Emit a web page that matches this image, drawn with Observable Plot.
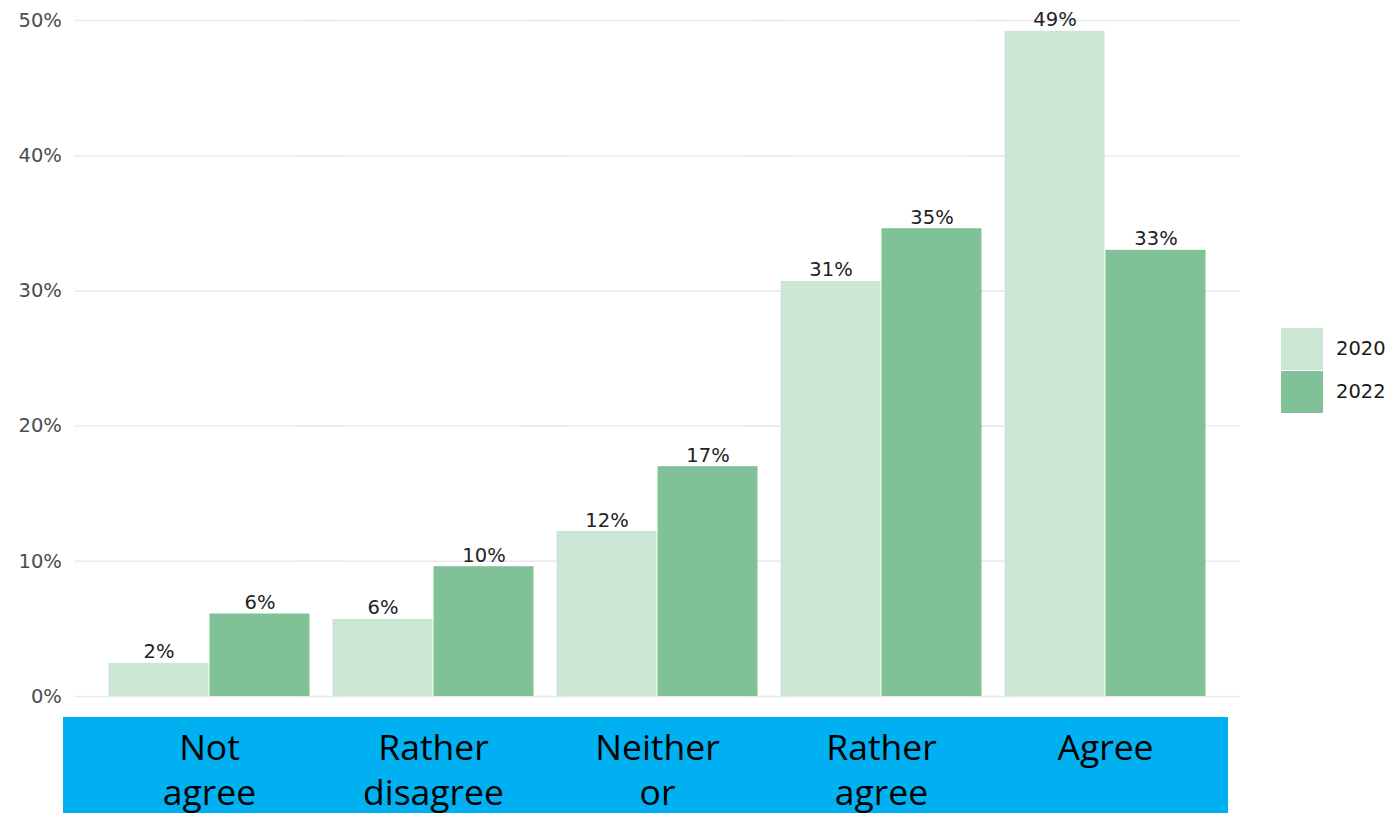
<!DOCTYPE html>
<html>
<head>
<meta charset="utf-8">
<script src="https://cdn.jsdelivr.net/npm/d3@7"></script>
<script src="https://cdn.jsdelivr.net/npm/@observablehq/plot@0.6"></script>
<style>
  html, body { margin: 0; padding: 0; background: #fff; overflow: hidden; }
  #wrap { position: relative; width: 1390px; height: 813px; }
  #band { position: absolute; left: 63px; top: 717px; width: 1165px; height: 96px; background: #00b0f0; }
  #chart { position: absolute; left: 0; top: 0; }
  #legend { position: absolute; left: 1281px; top: 327px; font-family: "DejaVu Sans", sans-serif; font-size: 19.5px; color: #1a1a1a; }
  .item { display: flex; align-items: center; height: 43px; }
  .sw { width: 42px; height: 42px; margin-right: 13px; }
</style>
</head>
<body>
<div id="wrap">
  <div id="band"></div>
  <div id="chart"></div>
  <div id="legend"></div>
</div>
<script>
const categories = ["Not\nagree", "Rather\ndisagree", "Neither\nor", "Rather\nagree", "Agree"];
const years = ["2020", "2022"];
const values2020 = [2.45, 5.7, 12.2, 30.7, 49.2];
const values2022 = [6.1, 9.6, 17.0, 34.6, 33.0];
const colors = ["#cce6d6", "#80c197"];
const yTicks = [0, 10, 20, 30, 40, 50];

const data = [];
categories.forEach((c, i) => {
  data.push({cat: c, year: years[0], value: values2020[i]});
  data.push({cat: c, year: years[1], value: values2022[i]});
});

const W = 1390, ML = 73, MR = 150;
const padIn = 0.1, padOut = 0.15;
const step = (W - ML - MR) / (categories.length - padIn + 2 * padOut);
const outer = padOut * step;

const chart = Plot.plot({
  width: W,
  height: 813,
  marginLeft: ML,
  marginRight: MR,
  marginTop: 20,
  marginBottom: 117,
  style: {background: "transparent", fontFamily: "DejaVu Sans, sans-serif", overflow: "visible"},
  fx: {domain: categories, paddingInner: padIn, paddingOuter: padOut, label: null},
  x: {domain: years, padding: 0, axis: null},
  y: {domain: [0, 50], label: null, axis: null},
  color: {domain: years, range: colors},
  marks: [
    Plot.ruleY(yTicks, {y: d => d, stroke: "#ebebeb", strokeWidth: 1.5, insetLeft: -outer, insetRight: -outer}),
    Plot.axisY(yTicks, {tickSize: 0, tickPadding: 13 + outer, fontSize: 19.5, fill: "#4d4d4d", label: null, tickFormat: d => d + "%"}),
    Plot.barY(data, {fx: "cat", x: "year", y: "value", fill: "year", insetLeft: 0.5, insetRight: 0.5}),
    Plot.text(data, {fx: "cat", x: "year", y: "value", text: d => Math.round(d.value) + "%", dy: -5, lineAnchor: "bottom", fontSize: 19.5, fill: "#222"}),
    Plot.axisFx({anchor: "bottom", tickSize: 0, tickPadding: 31, fontSize: 35.5, fontFamily: "Open Sans, sans-serif", lineHeight: 1.27, fill: "#000", label: null})
  ]
});
document.getElementById("chart").appendChild(chart);

const legend = document.getElementById("legend");
years.forEach((y, i) => {
  const item = document.createElement("div");
  item.className = "item";
  const sw = document.createElement("div");
  sw.className = "sw";
  sw.style.background = colors[i];
  const lab = document.createElement("span");
  lab.textContent = y;
  item.appendChild(sw);
  item.appendChild(lab);
  legend.appendChild(item);
});
</script>
</body>
</html>
